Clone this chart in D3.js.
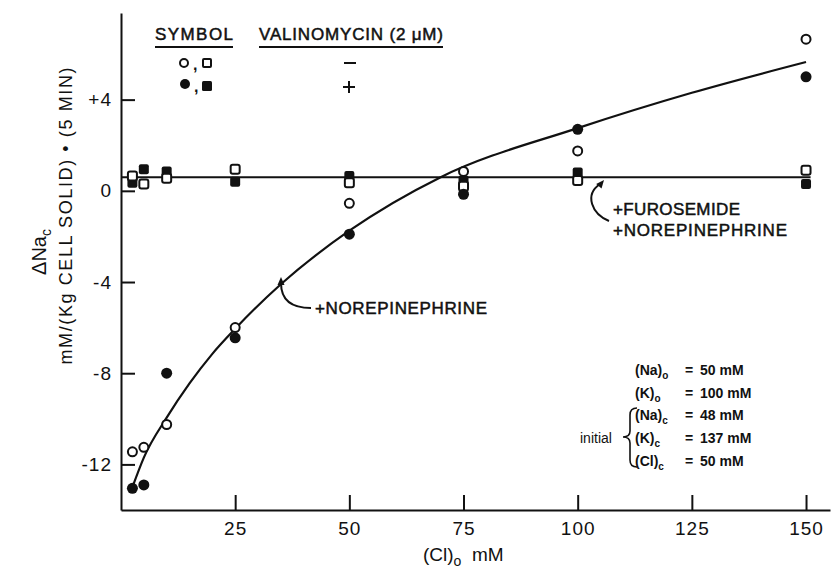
<!DOCTYPE html>
<html>
<head>
<meta charset="utf-8">
<script src="https://cdn.jsdelivr.net/npm/d3@7"></script>
<style>
  body { margin: 0; background: #fff; }
  svg { display: block; }
  text { font-family: "Liberation Sans", Arial, sans-serif; fill: #111; }
</style>
</head>
<body>
<svg id="chart" width="831" height="571"></svg>
<script>
// [ (Cl)o mM, delta Na_c ]
const openCircles = [[2.5, -11.45], [5, -11.25], [10, -10.25], [25, -6.0], [50, -0.55], [75, 0.85], [100, 1.75], [150, 6.65]]
const filledCircles = [[2.5, -13.05], [5, -12.9], [10, -8.0], [25, -6.45], [50, -1.9], [75, -0.15], [100, 2.7], [150, 5.0]]
const openSquares = [[2.5, 0.65], [5, 0.3], [10, 0.55], [25, 0.95], [50, 0.35], [75, 0.2], [100, 0.45], [150, 0.9]]
const filledSquares = [[2.5, 0.35], [5, 0.95], [10, 0.85], [25, 0.4], [50, 0.65], [75, 0.45], [100, 0.8], [150, 0.3]]

// hand-drawn fits
const norepiCurve = [[2.5, -13.0], [5, -11.7], [10, -9.95], [15, -8.45], [20, -7.15], [25, -6.05], [35, -4.1],
  [50, -1.75], [70, 0.6], [100, 2.75], [125, 4.3], [150, 5.65]]
const furosemideLine = [[0, 0.6], [151, 0.6]]

const xTicks = [25, 50, 75, 100, 125, 150]
const yTicks = [4, 0, -4, -8, -12]

const conditions = [
  ['Na', 'o', '50 mM'],
  ['K', 'o', '100 mM'],
  ['Na', 'c', '48 mM'],
  ['K', 'c', '137 mM'],
  ['Cl', 'c', '50 mM']
]

const svg = d3.select('#chart')
const ink = '#111'

const x = d3.scaleLinear().domain([0, 155.25]).range([121, 830])
const y = d3.scaleLinear().domain([-14, 7.8]).range([510, 13])

// axes
const xAxis = svg.append('g')
  .attr('transform', `translate(0,${y(-14)})`)
  .call(d3.axisBottom(x).tickValues(xTicks).tickSize(-15).tickSizeOuter(0).tickPadding(12))

const yAxis = svg.append('g')
  .attr('transform', `translate(${x(0)},0)`)
  .call(d3.axisLeft(y).tickValues(yTicks).tickSize(-14).tickSizeOuter(0).tickPadding(9)
    .tickFormat((d) => d > 0 ? '+' + d : String(d)))

;[xAxis, yAxis].forEach((g) => {
  g.attr('font-family', null).attr('font-size', null)
  g.selectAll('path, line').attr('stroke', ink).attr('stroke-width', 2)
  g.selectAll('text').style('font-size', '19px').style('letter-spacing', '1px').attr('fill', ink)
})

// lines
const line = d3.line()
  .x((d) => x(d[0]))
  .y((d) => y(d[1]))

svg.append('path')
  .datum(furosemideLine)
  .attr('d', line)
  .attr('fill', 'none')
  .attr('stroke', ink)
  .attr('stroke-width', 2)

svg.append('path')
  .datum(norepiCurve)
  .attr('d', line.curve(d3.curveMonotoneX))
  .attr('fill', 'none')
  .attr('stroke', ink)
  .attr('stroke-width', 2.2)

// symbols
function drawCircles (data, filled, r) {
  svg.append('g').selectAll('circle')
    .data(data)
    .join('circle')
    .attr('cx', (d) => x(d[0]))
    .attr('cy', (d) => y(d[1]))
    .attr('r', r)
    .attr('fill', filled ? ink : '#fff')
    .attr('stroke', ink)
    .attr('stroke-width', filled ? 0 : 2)
}

function drawSquares (data, filled, s) {
  svg.append('g').selectAll('rect')
    .data(data)
    .join('rect')
    .attr('x', (d) => x(d[0]) - s / 2)
    .attr('y', (d) => y(d[1]) - s / 2)
    .attr('width', s)
    .attr('height', s)
    .attr('rx', 2)
    .attr('fill', filled ? ink : '#fff')
    .attr('stroke', ink)
    .attr('stroke-width', filled ? 0 : 2)
}

drawSquares(filledSquares, true, 10)
drawSquares(openSquares, false, 9)
drawCircles(filledCircles, true, 5.5)
drawCircles(openCircles, false, 4.5)

// heavier lettering like the original figure
const inked = (sel, w) => sel.style('stroke', ink).style('stroke-width', w)

// legend
const legend = svg.append('g')
inked(legend.append('text').attr('x', 155).attr('y', 40).attr('textLength', 78)
  .style('font-size', '17px').text('SYMBOL'), 0.5)
inked(legend.append('text').attr('x', 259).attr('y', 40).attr('textLength', 184)
  .style('font-size', '17px').text('VALINOMYCIN (2 μM)'), 0.5)
legend.append('line').attr('x1', 155).attr('x2', 233).attr('y1', 47).attr('y2', 47)
  .attr('stroke', ink).attr('stroke-width', 2)
legend.append('line').attr('x1', 259).attr('x2', 443).attr('y1', 47).attr('y2', 47)
  .attr('stroke', ink).attr('stroke-width', 2)

legend.append('circle').attr('cx', 184).attr('cy', 63).attr('r', 4)
  .attr('fill', '#fff').attr('stroke', ink).attr('stroke-width', 2)
legend.append('rect').attr('x', 203).attr('y', 59).attr('width', 8).attr('height', 8).attr('rx', 1)
  .attr('fill', '#fff').attr('stroke', ink).attr('stroke-width', 2)
legend.append('circle').attr('cx', 185).attr('cy', 84).attr('r', 5).attr('fill', ink)
legend.append('rect').attr('x', 202).attr('y', 81).attr('width', 10).attr('height', 10).attr('rx', 1.5)
  .attr('fill', ink)
legend.selectAll('.comma')
  .data([[193, 70], [194, 92]])
  .join('text')
  .attr('x', (d) => d[0]).attr('y', (d) => d[1])
  .style('font-size', '16px').style('font-weight', 'bold')
  .text(',')
legend.append('line').attr('x1', 344).attr('x2', 356).attr('y1', 63).attr('y2', 63)
  .attr('stroke', ink).attr('stroke-width', 2)
legend.append('line').attr('x1', 343).attr('x2', 355).attr('y1', 87).attr('y2', 87)
  .attr('stroke', ink).attr('stroke-width', 2)
legend.append('line').attr('x1', 349).attr('x2', 349).attr('y1', 81).attr('y2', 93)
  .attr('stroke', ink).attr('stroke-width', 2)

// annotations
const arrowHead = (tx, ty, angle) => svg.append('path')
  .attr('d', 'M0,0 L-3.5,8 L3.5,8 Z')
  .attr('transform', `translate(${tx},${ty}) rotate(${angle})`)
  .attr('fill', ink)

svg.append('path')
  .attr('d', 'M311,308 C295,308 281,303 281,283')
  .attr('fill', 'none').attr('stroke', ink).attr('stroke-width', 2)
arrowHead(281, 277, 0)
inked(svg.append('text').attr('x', 315).attr('y', 314).attr('textLength', 172)
  .style('font-size', '17px').text('+NOREPINEPHRINE'), 0.5)

svg.append('path')
  .attr('d', 'M609,221 C592,214 584,195 600,184')
  .attr('fill', 'none').attr('stroke', ink).attr('stroke-width', 2)
arrowHead(604, 180, 40)
inked(svg.append('text').attr('x', 613).attr('y', 215).attr('textLength', 127)
  .style('font-size', '17px').text('+FUROSEMIDE'), 0.5)
inked(svg.append('text').attr('x', 613).attr('y', 236).attr('textLength', 174)
  .style('font-size', '17px').text('+NOREPINEPHRINE'), 0.5)

// conditions block
const cond = svg.append('g').style('font-size', '14px').style('font-weight', 'bold')
conditions.forEach((c, i) => {
  const by = 375 + i * 22.7
  const t = cond.append('text').attr('x', 635).attr('y', by)
  t.append('tspan').text(`(${c[0]})`)
  t.append('tspan').attr('dy', 4).style('font-size', '10px').text(c[1])
  cond.append('text').attr('x', 689).attr('y', by).attr('text-anchor', 'middle').text('=')
  cond.append('text').attr('x', 700).attr('y', by).text(c[2])
})
cond.append('text').attr('x', 580).attr('y', 443).style('font-weight', 'normal').text('initial')
cond.append('path')
  .attr('d', 'M637,408 Q630,408 630,415 L630,431 Q630,437 623,437 Q630,437 630,443 L630,460 Q630,467 637,467')
  .attr('fill', 'none').attr('stroke', ink).attr('stroke-width', 1.6)

// axis titles
const yt = svg.append('text')
  .attr('transform', 'translate(46,252) rotate(-90)')
  .attr('text-anchor', 'middle')
  .style('font-size', '20px')
yt.append('tspan').text('ΔNa')
yt.append('tspan').attr('dy', 5).style('font-size', '14px').text('c')

svg.append('text')
  .attr('transform', 'translate(72,216) rotate(-90)')
  .attr('text-anchor', 'middle')
  .attr('textLength', 297)
  .style('font-size', '18px')
  .text('mM/(Kg CELL SOLID) • (5 MIN)')

const xt = svg.append('text')
  .attr('x', 423).attr('y', 561)
  .style('font-size', '19px')
xt.append('tspan').text('(Cl)')
xt.append('tspan').attr('dy', 5).style('font-size', '14px').text('o')
xt.append('tspan').attr('dy', -5).text('\u00a0\u00a0mM')
</script>
</body>
</html>
